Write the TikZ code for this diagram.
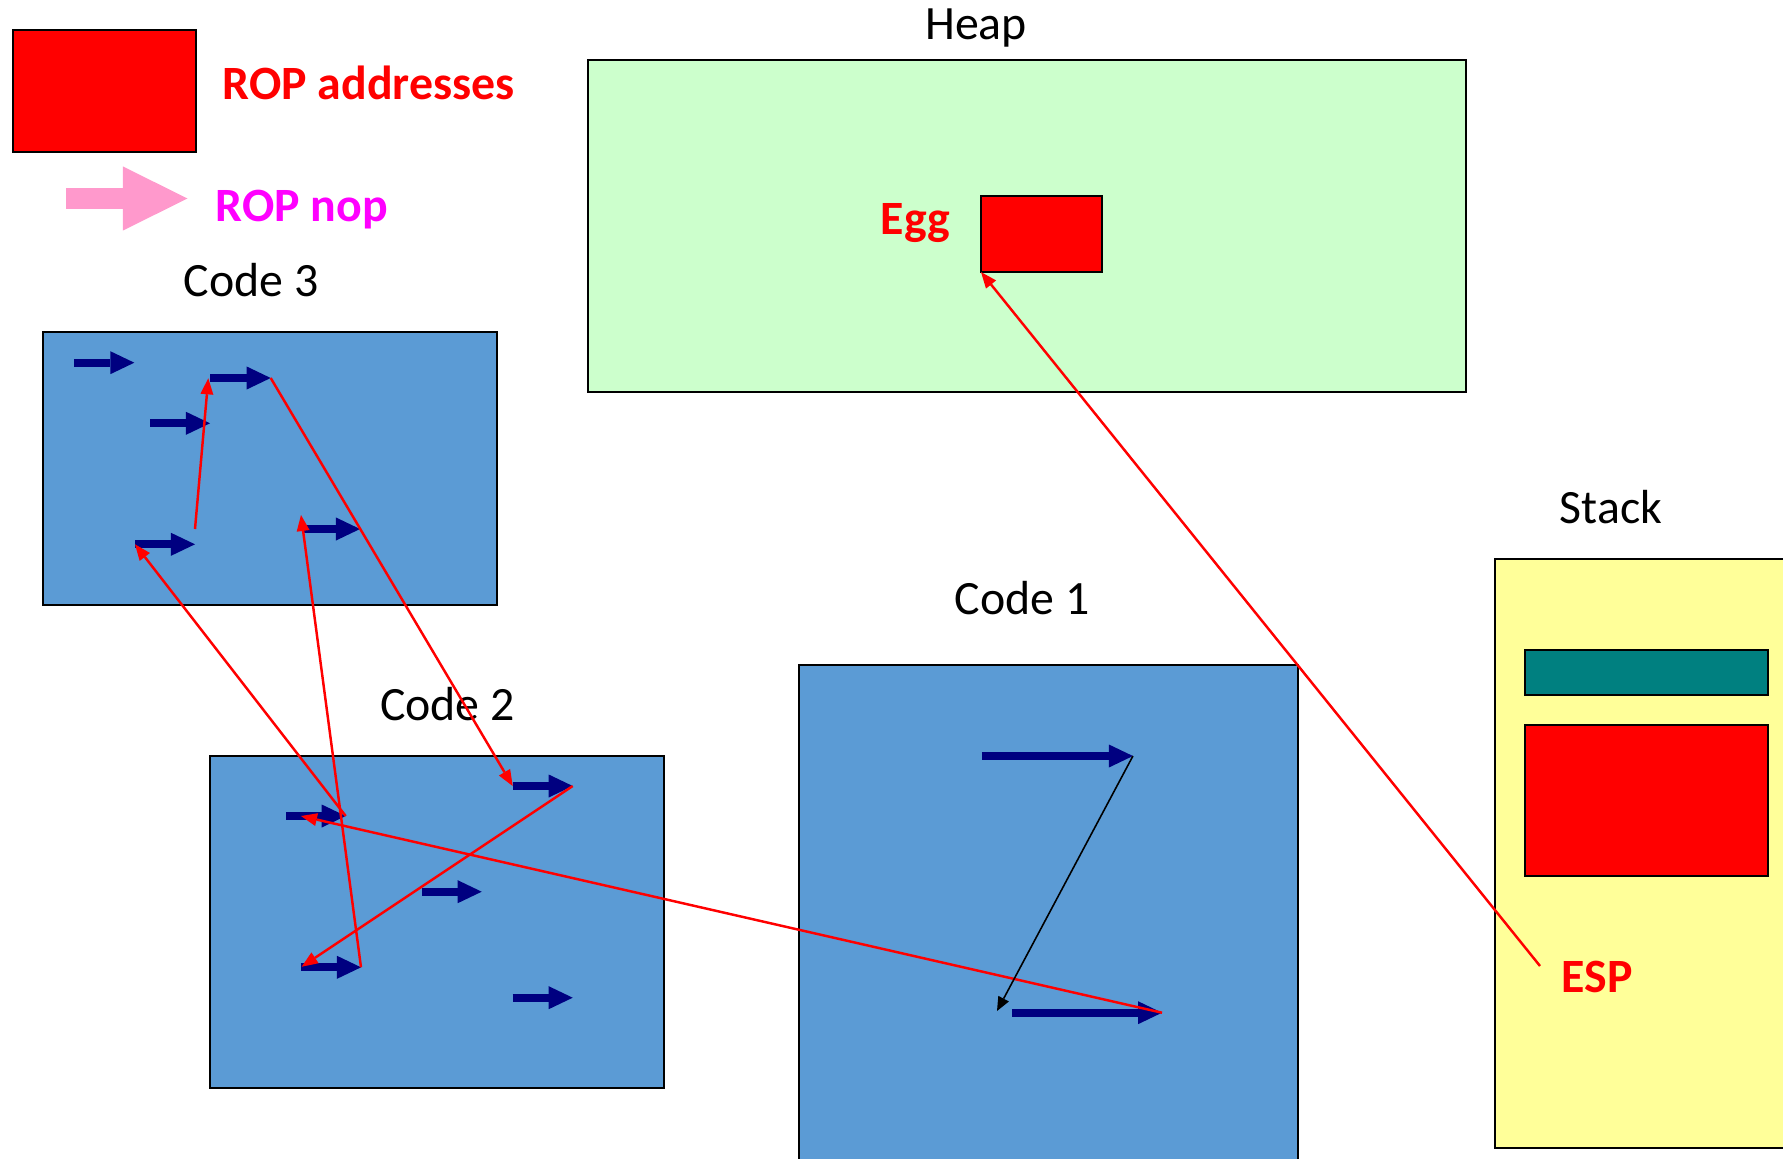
\documentclass[tikz,border=0pt]{standalone}
\usepackage{fontspec}
\setmainfont{Carlito}
\usetikzlibrary{arrows.meta}

\definecolor{codeblue}{HTML}{5B9BD5}
\definecolor{heapgreen}{HTML}{CCFFCC}
\definecolor{stackyellow}{HTML}{FFFF99}
\definecolor{nopnavy}{HTML}{000080}
\definecolor{slotteal}{HTML}{008080}
\definecolor{noppink}{HTML}{FF99CC}
\definecolor{nopmagenta}{HTML}{FF00FF}

\tikzset{
  area/.style={draw=black, line width=0.55pt, inner sep=0pt, outer sep=0pt, anchor=north west},
  codearea/.style={area, fill=codeblue},
  ropbox/.style={area, fill=red},
  lbl/.style={inner sep=0pt, font=\fontsize{13.6pt}{16pt}\selectfont},
  boldlbl/.style={lbl, font=\fontsize{13.6pt}{16pt}\selectfont\bfseries},
  nop/.style={draw=nopnavy, line width=0.077cm,
    -{Triangle[length=0.24cm, width=0.23cm, line width=0pt]}},
  chain/.style={draw=red, line width=0.7pt,
    -{Triangle[length=0.16cm, width=0.13cm, line width=0pt]}},
  jump/.style={draw=black, line width=0.45pt,
    -{Triangle[length=0.14cm, width=0.12cm, line width=0pt]}},
}

\begin{document}
\begin{tikzpicture}[x=0.01cm, y=-0.01cm]
\clip (0,0) rectangle (1783,1158);

% ---------- legend ----------
\node[ropbox, minimum width=1.83cm, minimum height=1.22cm] (legrop) at (13,30) {};
\node[boldlbl, text=red, anchor=base west] (legroplbl) at (222,100) {ROP addresses};
\coordinate (pink-s) at (66,198.5);
\coordinate (pink-t) at (187.5,198.5);
\draw[draw=noppink, line width=0.21cm,
  -{Triangle[length=0.645cm, width=0.64cm, line width=0pt]}] (pink-s) -- (pink-t);
\node[boldlbl, text=nopmagenta, anchor=base west] (legnoplbl) at (215,221.7) {ROP nop};

% ---------- heap ----------
\node[lbl, anchor=base] (heaplbl) at (976,39.3) {Heap};
\node[area, fill=heapgreen, minimum width=8.77cm, minimum height=3.32cm] (heap) at (588,60) {};
\node[ropbox, minimum width=1.21cm, minimum height=0.76cm] (egg) at (981,196) {};
\node[boldlbl, text=red, anchor=base west] (egglbl) at (880,235) {Egg};

% ---------- stack ----------
\node[lbl, anchor=base] (stacklbl) at (1611,523) {Stack};
\node[area, fill=stackyellow, minimum width=3.2cm, minimum height=5.89cm] (stack) at (1495,559) {};
\node[area, fill=slotteal, minimum width=2.43cm, minimum height=0.45cm] (slot) at (1525,650) {};
\node[ropbox, minimum width=2.43cm, minimum height=1.51cm] (ropstack) at (1525,725) {};
\node[boldlbl, text=red, anchor=base west] (esplbl) at (1561,992) {ESP};
\coordinate (esp) at (1540,966);

% ---------- code areas ----------
\node[lbl, anchor=base] (code3lbl) at (251,297) {Code 3};
\node[codearea, minimum width=4.54cm, minimum height=2.73cm] (code3) at (43,332) {};

\node[lbl, anchor=base] (code2lbl) at (447.5,720.7) {Code 2};
\node[codearea, minimum width=4.54cm, minimum height=3.32cm] (code2) at (210,756) {};

\node[lbl, anchor=base] (code1lbl) at (1022,614) {Code 1};
\node[codearea, minimum width=4.99cm, minimum height=5.2cm] (code1) at (799,665) {};

% ---------- gadget (nop) arrows ----------
% Code 3
\coordinate (a1-s) at (74,362.7);    \coordinate (a1-t) at (134.3,362.7);
\coordinate (a2-s) at (210,378);     \coordinate (a2-t) at (270.7,378);
\coordinate (a3-s) at (150,423.3);   \coordinate (a3-t) at (210,423.3);
\coordinate (a4-s) at (135,544.3);   \coordinate (a4-t) at (195,544.3);
\coordinate (a5-s) at (301.7,529);   \coordinate (a5-t) at (360,529);
% Code 2
\coordinate (b1-s) at (286,816);     \coordinate (b1-t) at (345.7,816);
\coordinate (b2-s) at (512.7,786);   \coordinate (b2-t) at (572.7,786);
\coordinate (b3-s) at (422.3,891.7); \coordinate (b3-t) at (481.7,891.7);
\coordinate (b4-s) at (301,967.3);   \coordinate (b4-t) at (361,967.3);
\coordinate (b5-s) at (512.7,997.7); \coordinate (b5-t) at (572.7,997.7);
% Code 1
\coordinate (c1-s) at (981.8,756);   \coordinate (c1-t) at (1132.9,756);
\coordinate (c2-s) at (1012,1012.7); \coordinate (c2-t) at (1162,1012.7);

\foreach \g in {a1,a2,a3,a4,a5,b1,b2,b3,b4,b5,c1,c2}
  \draw[nop] (\g-s) -- (\g-t);

% ---------- control flow ----------
\coordinate (a4-up) at (195,529);
\coordinate (a2-in) at (208.3,378.3);
\coordinate (a5-in) at (301,515);
\coordinate (b1-in) at (301,816);
\coordinate (b4-in) at (301.7,966.7);
\coordinate (c2-in) at (997,1011);

\draw[chain] (esp) -- (egg.south west);
\draw[chain] (c2-t) -- (b1-in);
\draw[chain] (b1-t) -- (a4-s);
\draw[chain] (a4-up) -- (a2-in);
\draw[chain] (a2-t) -- (b2-s);
\draw[chain] (b2-t) -- (b4-in);
\draw[chain] (b4-t) -- (a5-in);
\draw[jump] (c1-t) -- (c2-in);
\end{tikzpicture}
\end{document}
